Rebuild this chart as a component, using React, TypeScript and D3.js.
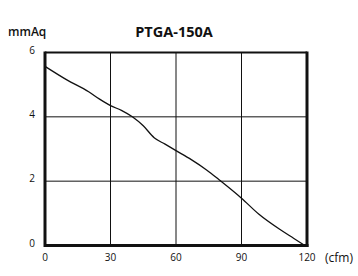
import React from "react";
import * as d3 from "d3";

const title = "PTGA-150A";
const yUnit = "mmAq";
const xUnit = "(cfm)";
const xTicks = [0, 30, 60, 90, 120];
const yTicks = [0, 2, 4, 6];
const flow = [0, 10, 20, 25, 30, 35, 40, 45, 50, 55, 60, 67, 74, 80, 90, 98, 108, 114, 119];
const pressure = [5.57, 5.15, 4.78, 4.55, 4.35, 4.2, 4.0, 3.72, 3.35, 3.15, 2.95, 2.67, 2.35, 2.03, 1.47, 0.97, 0.48, 0.22, 0];

export default function App() {
  const W = 358, H = 276;
  const left = 45, right = 307, top = 52.5, bottom = 245.5;
  const x = d3.scaleLinear().domain([0, 120]).range([left, right]);
  const y = d3.scaleLinear().domain([0, 6]).range([bottom, top]);
  const pts = flow.map((f, i) => [f, pressure[i]] as [number, number]);
  const line = d3.line<[number, number]>().x(d => x(d[0])).y(d => y(d[1])).curve(d3.curveMonotoneX);
  const font = "'Open Sans', 'DejaVu Sans', sans-serif";
  return (
    <svg width={W} height={H} style={{ position: "absolute", left: 0, top: 0, background: "#fff" }}>
      <rect x={0} y={0} width={W} height={H} fill="#fff" />
      {xTicks.slice(1, -1).map(t => (
        <line key={"gx" + t} x1={x(t)} x2={x(t)} y1={top} y2={bottom} stroke="#111" strokeWidth={1} />
      ))}
      {yTicks.slice(1, -1).map(t => (
        <line key={"gy" + t} x1={left} x2={right} y1={y(t)} y2={y(t)} stroke="#111" strokeWidth={1} />
      ))}
      <path d={line(pts) || ""} fill="none" stroke="#111" strokeWidth={1.3} />
      <line x1={left} x2={right} y1={top} y2={top} stroke="#111" strokeWidth={2} />
      <line x1={left} x2={left} y1={top - 1} y2={bottom + 1.5} stroke="#111" strokeWidth={3} />
      <line x1={right} x2={right} y1={top - 1} y2={bottom + 1.5} stroke="#111" strokeWidth={3} />
      <line x1={left} x2={right + 1.5} y1={bottom} y2={bottom} stroke="#111" strokeWidth={3} />
      {yTicks.map(t => (
        <text key={"ty" + t} x={35} y={y(t) - 1.5} textAnchor="end" dominantBaseline="middle" fontFamily={font} fontSize={10} fill="#111">{t}</text>
      ))}
      {xTicks.map(t => (
        <text key={"tx" + t} x={x(t)} y={261} textAnchor="middle" fontFamily={font} fontSize={10} fill="#111">{t}</text>
      ))}
      <text x={8} y={36} fontFamily={font} fontSize={12} fontWeight={600} fill="#111">{yUnit}</text>
      <text x={174} y={37} textAnchor="middle" fontFamily={font} fontSize={14.5} fontWeight={700} fill="#111">{title}</text>
      <text x={325} y={262} fontFamily={font} fontSize={12} fill="#111">{xUnit}</text>
    </svg>
  );
}
